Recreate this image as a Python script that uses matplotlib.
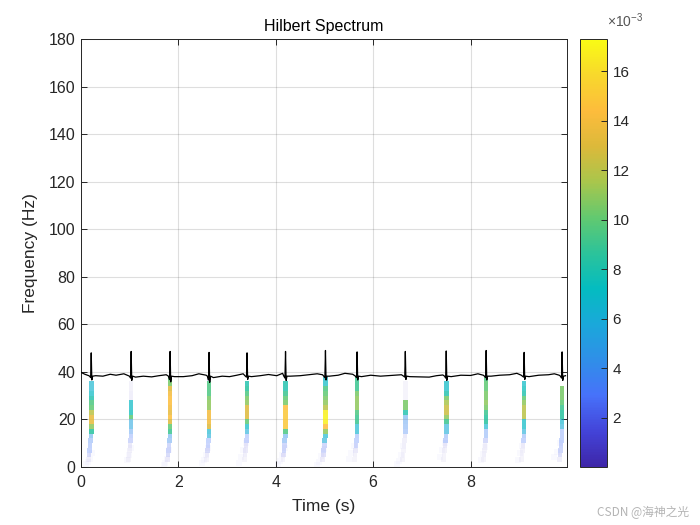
import matplotlib
matplotlib.use("Agg")
import matplotlib.pyplot as plt
import numpy as np
from matplotlib.cm import ScalarMappable
from matplotlib.colors import LinearSegmentedColormap, Normalize

# R peaks of the ECG trace
beat_times = [0.21, 1.03, 1.83, 2.63, 3.41, 4.20, 5.02, 5.67, 6.66, 7.50, 8.32, 9.10, 9.88]
peak_heights = [48.0, 48.6, 48.6, 48.2, 48.0, 48.6, 49.0, 48.4, 48.6, 48.8, 49.0, 48.2, 48.4]
dip_heights = [36.6, 36.4, 35.8, 35.6, 36.8, 36.4, 36.6, 36.6, 36.8, 36.4, 36.6, 36.8, 36.4]

# ECG baseline between the beats
base_t = [0.00, 0.08, 0.16, 0.30, 0.45, 0.60, 0.72, 0.88, 0.97, 1.12, 1.28, 1.45, 1.60, 1.75, 1.92,
          2.10, 2.28, 2.42, 2.57, 2.72, 2.90, 3.05, 3.20, 3.33, 3.50, 3.68, 3.85, 4.02, 4.14, 4.30,
          4.50, 4.68, 4.85, 4.96, 5.10, 5.28, 5.42, 5.58, 5.76, 5.95, 6.15, 6.35, 6.58, 6.75, 6.95,
          7.15, 7.30, 7.43, 7.60, 7.80, 8.00, 8.15, 8.26, 8.42, 8.60, 8.80, 8.95, 9.04, 9.20, 9.40,
          9.60, 9.72, 9.82, 9.95]
base_v = [39.8, 39.0, 38.4, 38.4, 38.2, 39.0, 38.6, 39.2, 38.4, 37.8, 38.2, 37.9, 38.4, 38.8, 38.0,
          38.0, 38.4, 39.2, 38.6, 37.6, 38.2, 38.0, 38.6, 39.2, 38.0, 38.4, 38.9, 38.4, 39.4, 38.2,
          38.4, 38.8, 39.2, 38.8, 38.2, 38.6, 39.4, 39.0, 38.0, 38.6, 38.2, 38.5, 38.8, 38.0, 37.9,
          37.8, 38.4, 38.7, 38.0, 38.6, 38.5, 39.2, 38.6, 38.2, 38.6, 38.8, 39.4, 38.6, 38.0, 38.6,
          38.8, 39.2, 38.6, 38.4]

# Hilbert amplitudes (x 1e-3), one list per beat, frequency bins from top to bottom
freq_bins = [37, 35, 33, 31, 29, 27, 25, 23, 21, 19, 17, 15, 13, 11, 9, 7, 5, 3]
beat_amps = [
    [0, 6.5, 6.5, 7, 8, 9.5, 10, 12, 13.5, 13.5, 11, 8.5, 4.5, 3.5, 3.2, 3, 2, 0.4],
    [0, 0.6, 0.6, 0.8, 0.8, 7, 7, 7.5, 10, 5.5, 5.5, 4, 3, 2.5, 1, 0.6, 0.3, 0.2],
    [10, 10.5, 13, 14, 14.5, 14.5, 14, 13.5, 14.5, 13, 10, 9, 4.5, 4, 2.5, 2.5, 2, 0.8],
    [2, 9.5, 9.5, 9.5, 10.5, 11, 11, 14, 14, 14, 13, 6.5, 6, 3, 2.8, 2, 0.8, 0.3],
    [0, 8, 8.5, 9.5, 10.5, 11, 13, 13, 13, 10, 7, 6, 3, 2.8, 1.2, 1, 0.8, 0.2],
    [0, 8, 8, 9, 10, 10.5, 14.5, 15, 15, 15, 15, 9.5, 4.5, 4, 2.5, 2.5, 1.5, 0.5],
    [7, 7, 9.5, 10, 10.5, 11, 12, 16.8, 17, 16.8, 14.5, 11, 6.5, 6, 2.5, 2.5, 1.6, 0.8],
    [9, 9, 9, 10.5, 11, 11, 11, 9.5, 9, 9, 6.5, 6.5, 3.2, 3, 2.5, 1, 0.6, 0.2],
    [0, 0.4, 0.5, 0.4, 0.5, 10.5, 10.5, 8, 4.5, 4, 3.8, 3.5, 1, 0.7, 0.5, 0.4, 0.5, 0.2],
    [0, 7, 7, 8, 10.5, 11.5, 12.5, 12.5, 11, 9, 6, 6, 3.5, 3.2, 1, 0.6, 0.3, 0.2],
    [9.5, 10, 10, 10.5, 10.5, 11, 10.5, 9, 8.5, 8.5, 6.5, 3.5, 3.5, 2.2, 0.7, 0.6, 0.3, 0.2],
    [0, 7, 7.5, 8, 10, 11, 12, 12, 12, 7, 7, 6, 3.5, 3, 0.8, 0.6, 0.4, 0.2],
    [0, 0, 10.5, 10.5, 10.5, 10, 9, 8.5, 8.5, 6.5, 6, 3, 3, 3, 2.8, 2.5, 1.8, 0.8],
]

# Faint smear under the strips
smear_t = [0.14, 0.18, 0.10, 0.22, 0.95, 0.98, 1.02, 1.72, 1.76, 1.80, 1.70, 2.52, 2.56, 2.60, 2.48,
           3.28, 3.32, 3.38, 3.24, 4.08, 4.12, 4.18, 4.04, 4.88, 4.92, 4.98, 4.84, 5.55, 5.60, 5.50,
           6.52, 6.58, 6.62, 6.48, 7.38, 7.42, 7.48, 8.22, 8.26, 8.30, 8.98, 9.02, 9.06, 9.72, 9.78, 9.84]
smear_f = [2.0, 3.5, 1.2, 6.0, 3.0, 5.0, 8.0, 1.5, 3.5, 7.0, 0.8, 3.0, 5.0, 8.0, 1.5,
           4.0, 7.0, 10.0, 1.8, 2.5, 5.0, 8.0, 1.2, 2.0, 4.5, 7.5, 1.0, 6.0, 9.0, 3.5,
           2.5, 5.0, 9.0, 1.2, 4.0, 7.0, 10.0, 3.0, 5.5, 8.5, 3.0, 6.0, 9.0, 4.0, 6.5, 10.0]

parula_colors = ["#3e26a8", "#4344d9", "#4772fa", "#2f8fe8", "#1aa8da", "#04bcc0", "#2cc39a",
                 "#62c970", "#a9c64c", "#dcb93a", "#fdbc3c", "#f8d82c", "#f9fb15"]

plt.rcParams["font.family"] = ["Liberation Sans", "DejaVu Sans"]
plt.rcParams["mathtext.default"] = "regular"
TEXT_GREY = "#262626"

parula = LinearSegmentedColormap.from_list("parula", parula_colors)
norm = Normalize(0.0, 17.3)

fig = plt.figure(figsize=(7, 5.25), dpi=100)
ax = fig.add_axes([81 / 700, 58 / 525, 486 / 700, 428 / 525])
cax = fig.add_axes([580 / 700, 58 / 525, 27 / 700, 428 / 525])

# Grid behind the data
ax.grid(True, color="#262626", alpha=0.15, linewidth=0.8, zorder=0)
ax.set_axisbelow(True)

# Strips, pale where the amplitude is low
for t, amps in zip(beat_times, beat_amps):
    for f, a in zip(freq_bins, amps):
        if a == 0:
            continue
        drift = -0.005 * max(0, 14 - f)
        rgba = list(parula(norm(a)))
        rgba[3] = float(np.clip(a / 10, 0.05, 0.85))
        ax.bar(t + drift, 2.0, width=0.095, bottom=f - 1, color=[rgba], linewidth=0, zorder=2)

ax.scatter(smear_t, smear_f, s=22, marker="s", color="#5a5ae0", alpha=0.03, linewidth=0, zorder=2)

# ECG trace: baseline with the QRS complexes put in
ecg_t = list(base_t)
ecg_v = list(base_v)
for t, p, d in zip(beat_times, peak_heights, dip_heights):
    ecg_t += [t - 0.035, t - 0.012, t, t + 0.012, t + 0.03]
    ecg_v += [38.2, d + 1.0, p, d, 38.2]
order = np.argsort(ecg_t)
ax.plot(np.array(ecg_t)[order], np.array(ecg_v)[order], color="black", linewidth=0.9, zorder=3)

ax.set_xlim(0, 9.98)
ax.set_ylim(0, 180)
ax.set_xticks([0, 2, 4, 6, 8])
ax.set_yticks(range(0, 181, 20))
ax.tick_params(direction="in", length=4, width=0.7, top=True, right=True, labelsize=11.5,
               colors=TEXT_GREY)
ax.tick_params(axis="x", pad=6)
ax.tick_params(axis="y", pad=4)
for spine in ax.spines.values():
    spine.set_color(TEXT_GREY)
    spine.set_linewidth(0.7)

ax.set_xlabel("Time (s)", fontsize=12.5, color=TEXT_GREY, labelpad=6)
ax.set_ylabel("Frequency (Hz)", fontsize=12.5, color=TEXT_GREY, labelpad=8)
ax.set_title("Hilbert Spectrum", fontsize=11.5, color="black", pad=6)

# Colorbar
cbar = fig.colorbar(ScalarMappable(norm=norm, cmap=parula), cax=cax)
cbar.set_ticks([2, 4, 6, 8, 10, 12, 14, 16])
cbar.ax.tick_params(direction="in", length=4, width=0.7, labelsize=11, colors=TEXT_GREY, pad=4)
cbar.outline.set_edgecolor(TEXT_GREY)
cbar.outline.set_linewidth(0.7)
fig.text(607 / 700, 1 - 27 / 525, r"$\times 10^{-3}$", fontsize=10, color="#555555", ha="left", va="baseline")

# Watermark
fig.text(689 / 700, 1 - 512 / 525, "CSDN @海神之光", fontsize=8.5, color="#b4b4b4", ha="right", va="center",
         family=["Noto Sans CJK SC", "DejaVu Sans"])

fig.savefig("out.png", dpi=100)
